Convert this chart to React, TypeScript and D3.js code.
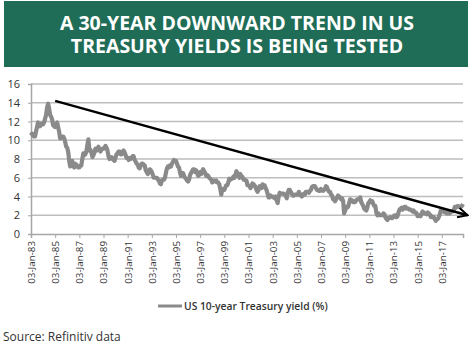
import React, {useEffect, useRef} from "react";
import * as d3 from "d3";

const title_lines = ["A 30-YEAR DOWNWARD TREND IN US", "TREASURY YIELDS IS BEING TESTED"];
const series_name = "US 10-year Treasury yield (%)";
const source_text = "Source: Refinitiv data";

const first_month = new Date(1983, 0, 3);

// monthly readings, Jan 1983 .. Oct 2018
const yields = [
    10.5, 10.7, 10.5, 10.4, 10.4, 10.9, 11.4, 11.9, 11.7, 11.5, 11.7, 11.8,   // 1983
    11.7, 11.9, 12.3, 12.7, 13.5, 13.9, 13.4, 12.7, 12.5, 12.2, 11.6, 11.5,   // 1984
    11.4, 11.6, 11.9, 11.4, 10.9, 10.2, 10.3, 10.4, 10.4, 10.2, 9.8, 9.3,     // 1985
    9.2, 8.7, 7.8, 7.2, 7.7, 7.8, 7.3, 7.1, 7.5, 7.4, 7.2, 7.1,               // 1986
    7.1, 7.3, 7.3, 8.0, 8.6, 8.4, 8.5, 8.8, 9.5, 10.1, 8.9, 9.0,              // 1987
    8.7, 8.2, 8.4, 8.7, 9.1, 8.9, 9.1, 9.3, 9.0, 8.8, 9.0, 9.1,               // 1988
    9.1, 9.2, 9.4, 9.2, 8.9, 8.3, 8.0, 8.1, 8.2, 8.0, 7.9, 7.8,               // 1989
    8.2, 8.5, 8.6, 8.8, 8.8, 8.5, 8.5, 8.8, 8.9, 8.7, 8.4, 8.1,               // 1990
    8.1, 7.9, 8.1, 8.0, 8.1, 8.3, 8.3, 7.9, 7.7, 7.5, 7.4, 7.1,               // 1991
    7.0, 7.3, 7.5, 7.5, 7.4, 7.3, 6.8, 6.6, 6.4, 6.6, 6.9, 6.8,               // 1992
    6.6, 6.3, 6.0, 6.0, 6.0, 6.0, 5.8, 5.7, 5.4, 5.3, 5.7, 5.8,               // 1993
    5.8, 6.0, 6.5, 7.0, 7.2, 7.1, 7.3, 7.2, 7.5, 7.7, 7.9, 7.8,               // 1994
    7.8, 7.5, 7.2, 7.1, 6.6, 6.2, 6.3, 6.5, 6.2, 6.0, 5.9, 5.7,               // 1995
    5.6, 5.8, 6.3, 6.5, 6.7, 6.9, 6.9, 6.6, 6.8, 6.5, 6.2, 6.3,               // 1996
    6.6, 6.4, 6.7, 6.9, 6.7, 6.5, 6.2, 6.3, 6.2, 6.0, 5.9, 5.8,               // 1997
    5.5, 5.6, 5.7, 5.6, 5.7, 5.5, 5.5, 5.3, 4.8, 4.2, 4.8, 4.7,               // 1998
    4.7, 5.0, 5.2, 5.2, 5.5, 5.9, 5.8, 5.9, 5.9, 6.1, 6.0, 6.3,               // 1999
    6.7, 6.5, 6.3, 6.0, 6.4, 6.1, 6.1, 5.8, 5.8, 5.7, 5.7, 5.2,               // 2000
    5.2, 5.1, 4.9, 5.1, 5.4, 5.3, 5.2, 5.0, 4.7, 4.5, 4.7, 5.1,               // 2001
    5.0, 4.9, 5.3, 5.2, 5.2, 4.9, 4.7, 4.3, 3.9, 3.9, 4.1, 4.0,               // 2002
    4.0, 3.9, 3.8, 4.0, 3.6, 3.3, 4.0, 4.4, 4.3, 4.3, 4.3, 4.3,               // 2003
    4.2, 4.1, 3.8, 4.4, 4.7, 4.7, 4.5, 4.3, 4.1, 4.1, 4.2, 4.2,               // 2004
    4.2, 4.2, 4.5, 4.3, 4.1, 4.0, 4.2, 4.3, 4.2, 4.5, 4.5, 4.5,               // 2005
    4.4, 4.6, 4.7, 5.0, 5.1, 5.1, 5.1, 4.9, 4.7, 4.7, 4.6, 4.6,               // 2006
    4.8, 4.7, 4.6, 4.7, 4.8, 5.1, 5.0, 4.7, 4.5, 4.5, 4.2, 4.1,               // 2007
    3.7, 3.7, 3.5, 3.7, 3.9, 4.1, 4.0, 3.9, 3.7, 3.8, 3.5, 2.2,               // 2008
    2.5, 2.9, 2.8, 2.9, 3.3, 3.7, 3.6, 3.6, 3.4, 3.4, 3.4, 3.6,               // 2009
    3.7, 3.7, 3.7, 3.9, 3.4, 3.2, 3.0, 2.7, 2.6, 2.5, 2.8, 3.3,               // 2010
    3.4, 3.6, 3.4, 3.5, 3.2, 3.0, 3.0, 2.3, 2.0, 2.2, 2.0, 2.0,               // 2011
    2.0, 2.0, 2.2, 2.1, 1.8, 1.6, 1.5, 1.7, 1.7, 1.8, 1.7, 1.7,               // 2012
    1.9, 2.0, 2.0, 1.8, 1.9, 2.3, 2.6, 2.7, 2.8, 2.6, 2.7, 2.9,               // 2013
    2.9, 2.7, 2.7, 2.7, 2.6, 2.6, 2.5, 2.4, 2.5, 2.3, 2.3, 2.2,               // 2014
    1.9, 2.0, 2.0, 1.9, 2.2, 2.4, 2.3, 2.2, 2.2, 2.1, 2.3, 2.2,               // 2015
    2.1, 1.8, 1.9, 1.8, 1.8, 1.6, 1.4, 1.6, 1.6, 1.8, 2.1, 2.5,               // 2016
    2.4, 2.4, 2.5, 2.3, 2.3, 2.2, 2.3, 2.2, 2.2, 2.4, 2.4, 2.4,               // 2017
    2.6, 2.9, 2.8, 2.9, 3.0, 2.9, 2.9, 2.9, 3.0, 3.2                          // 2018
];

// hand-drawn trend arrow, start and end
const trend = [
    {date: new Date(1985, 0, 3), value: 14.2},
    {date: new Date(2019, 1, 20), value: 2.0}
];

const y_ticks = [0, 2, 4, 6, 8, 10, 12, 14, 16];
const x_tick_years = d3.range(1983, 2018, 2);

const fmt = d3.timeFormat("%d-%b-%y");

function drawChart(node){
    const svg = d3.select(node);
    svg.selectChildren().remove();

    const data = yields.map((v, i) => ({date: new Date(1983, i, 3), value: v}));

    const x = d3.scaleTime()
                .domain([first_month, new Date(2018, 9, 5)])
                .range([31, 463]);
    const y = d3.scaleLinear().domain([0, 16]).range([234, 84]);

    //============================== banner =============================================
    svg.append("rect")
        .attr("x", 4).attr("y", 1)
        .attr("width", 464).attr("height", 66)
        .attr("fill", "#1f6d57");
    const title = svg.append("text")
                    .attr("text-anchor", "middle")
                    .style("font-family", "'Open Sans', sans-serif")
                    .style("font-weight", "700")
                    .style("font-size", "19.5px")
                    .style("fill", "#ffffff");
    title.selectAll("tspan")
        .data(title_lines)
        .enter()
            .append("tspan")
                .attr("x", 237)
                .attr("y", (d, i) => 30 + i * 23)
                .text(d => d);

    //============================== grid & axes ========================================
    const graph = svg.append("g");

    graph.selectAll(".grid")
        .data(y_ticks.filter(t => t > 0))
        .enter()
            .append("line")
                .attr("x1", 31).attr("x2", 463)
                .attr("y1", d => y(d)).attr("y2", d => y(d))
                .style("stroke", "#bdbdbd")
                .style("stroke-width", "1.5px");

    const yAxis = d3.axisLeft(y).tickValues(y_ticks).tickSize(3).tickPadding(8);
    const gy = graph.append("g").attr("transform", "translate(31,0)").call(yAxis);
    gy.select(".domain").style("stroke", "#a6a6a6").style("stroke-width", "1.5px");
    gy.selectAll(".tick line").style("stroke", "#a6a6a6");
    gy.selectAll("text")
        .style("font-family", "'Open Sans', sans-serif")
        .style("font-size", "11px")
        .style("fill", "#333333");

    const xAxis = d3.axisBottom(x)
                    .tickValues(x_tick_years.map(yr => new Date(yr, 0, 3)))
                    .tickFormat(fmt)
                    .tickSizeOuter(0)
                    .tickSize(4);
    const gx = graph.append("g").attr("transform", "translate(0,234)").call(xAxis);
    gx.select(".domain").style("stroke", "#a6a6a6").style("stroke-width", "1.5px");
    gx.selectAll(".tick line").style("stroke", "#a6a6a6");
    gx.selectAll("text")
        .attr("transform", "rotate(-90)")
        .attr("x", -7)
        .attr("y", 0)
        .attr("dy", "0.35em")
        .attr("text-anchor", "end")
        .style("font-family", "'Open Sans', sans-serif")
        .style("font-size", "9.8px")
        .style("fill", "#333333");

    //============================== series =============================================
    const line = d3.line()
                    .x(d => x(d.date))
                    .y(d => y(d.value));

    graph.append("path")
        .datum(data)
        .attr("fill", "none")
        .attr("d", line)
        .style("stroke", "#8a8a8a")
        .style("stroke-width", "4.2px")
        .style("stroke-linejoin", "round");

    //============================== trend arrow ========================================
    svg.append("defs").append("marker")
        .attr("id", "arrow-head")
        .attr("viewBox", "0 0 10 10")
        .attr("refX", 9).attr("refY", 5)
        .attr("markerWidth", 5).attr("markerHeight", 5)
        .attr("markerUnits", "strokeWidth")
        .attr("orient", "auto")
        .append("path")
            .attr("d", "M1,1 L9,5 L1,9")
            .attr("fill", "none")
            .style("stroke", "#000")
            .style("stroke-width", "1.6px");

    graph.append("path")
        .datum(trend)
        .attr("fill", "none")
        .attr("d", line)
        .attr("marker-end", "url(#arrow-head)")
        .style("stroke", "#000")
        .style("stroke-width", "2.4px");

    //============================== legend & source ====================================
    svg.append("line")
        .attr("x1", 158).attr("x2", 182)
        .attr("y1", 306).attr("y2", 306)
        .style("stroke", "#8a8a8a")
        .style("stroke-width", "3px");
    svg.append("text")
        .attr("x", 184).attr("y", 310)
        .style("font-family", "'Open Sans', sans-serif")
        .style("font-size", "10.3px")
        .style("font-weight", "600")
        .style("fill", "#333333")
        .text(series_name);

    svg.append("text")
        .attr("x", 3).attr("y", 341)
        .style("font-family", "'Open Sans', sans-serif")
        .style("font-size", "12px")
        .style("fill", "#333333")
        .text(source_text);
}

export default function App(){
    const ref = useRef(null);
    useEffect(() => {
        document.body.style.margin = "0";
        drawChart(ref.current);
    });
    return <svg ref={ref} width={475} height={350} style={{display: "block", background: "#ffffff"}}></svg>;
}
